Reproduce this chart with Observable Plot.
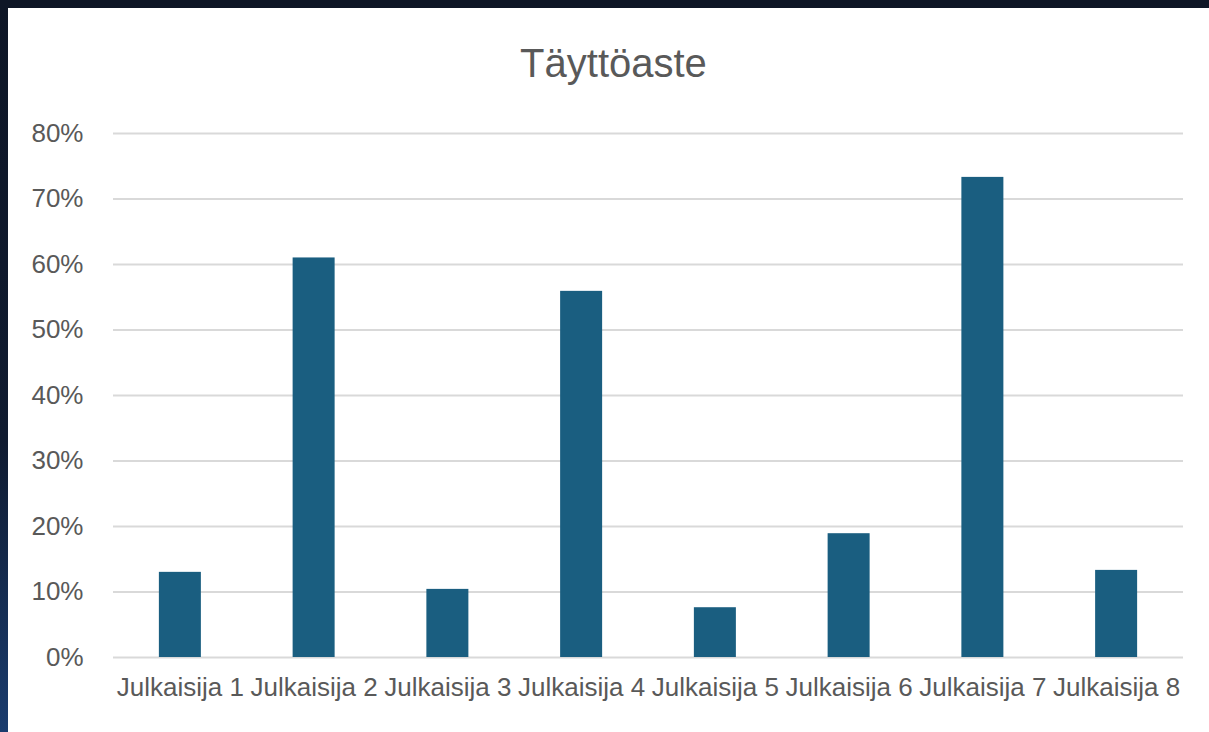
<!DOCTYPE html>
<html>
<head>
<meta charset="utf-8">
<script src="https://cdn.jsdelivr.net/npm/d3@7"></script>
<script src="https://cdn.jsdelivr.net/npm/@observablehq/plot@0.6"></script>
<style>
  html, body { margin: 0; padding: 0; }
  body {
    width: 1209px; height: 732px; overflow: hidden;
    background: linear-gradient(to bottom, #0e1626 0%, #101b30 60%, #1a3c6e 100%);
    position: relative;
  }
  #card {
    position: absolute; left: 8px; top: 8px; width: 1201px; height: 724px;
    background: #ffffff;
  }
  #title {
    box-sizing: border-box; height: 100px; padding-top: 35px;
    font-family: "Liberation Sans", Arial, sans-serif; font-size: 40px; line-height: 40px;
    color: #595959; text-align: center; padding-left: 10px;
  }
  #chart svg { display: block; }
</style>
</head>
<body>
<div id="card">
  <div id="title">Täyttöaste</div>
  <div id="chart"></div>
</div>
<script>
const categories = ["Julkaisija 1", "Julkaisija 2", "Julkaisija 3", "Julkaisija 4", "Julkaisija 5", "Julkaisija 6", "Julkaisija 7", "Julkaisija 8"];
const values = [0.13, 0.61, 0.104, 0.559, 0.076, 0.189, 0.733, 0.133];
const yTicks = [0, 0.1, 0.2, 0.3, 0.4, 0.5, 0.6, 0.7, 0.8];

const data = categories.map((c, i) => ({ category: c, value: values[i] }));

const chart = Plot.plot({
  width: 1201,
  height: 624,
  marginTop: 25,
  marginBottom: 75,
  marginLeft: 105,
  marginRight: 26,
  style: { fontFamily: "'Liberation Sans', Arial, sans-serif", fontSize: "26px", color: "#595959", background: "transparent" },
  x: { domain: categories, paddingInner: 0.686, paddingOuter: 0.343, round: false, label: null },
  y: { domain: [0, 0.8], label: null },
  marks: [
    Plot.gridY(yTicks, { stroke: "#d9d9d9", strokeWidth: 2, strokeOpacity: 1 }),
    Plot.barY(data, { x: "category", y: "value", fill: "#1a5e80" }),
    Plot.axisY(yTicks, { tickFormat: d3.format(".0%"), tickSize: 0, tickPadding: 30, fontSize: 26, label: null }),
    Plot.axisX({ tickSize: 0, tickPadding: 20, fontSize: 26, label: null })
  ]
});
document.getElementById("chart").appendChild(chart);
</script>
</body>
</html>
